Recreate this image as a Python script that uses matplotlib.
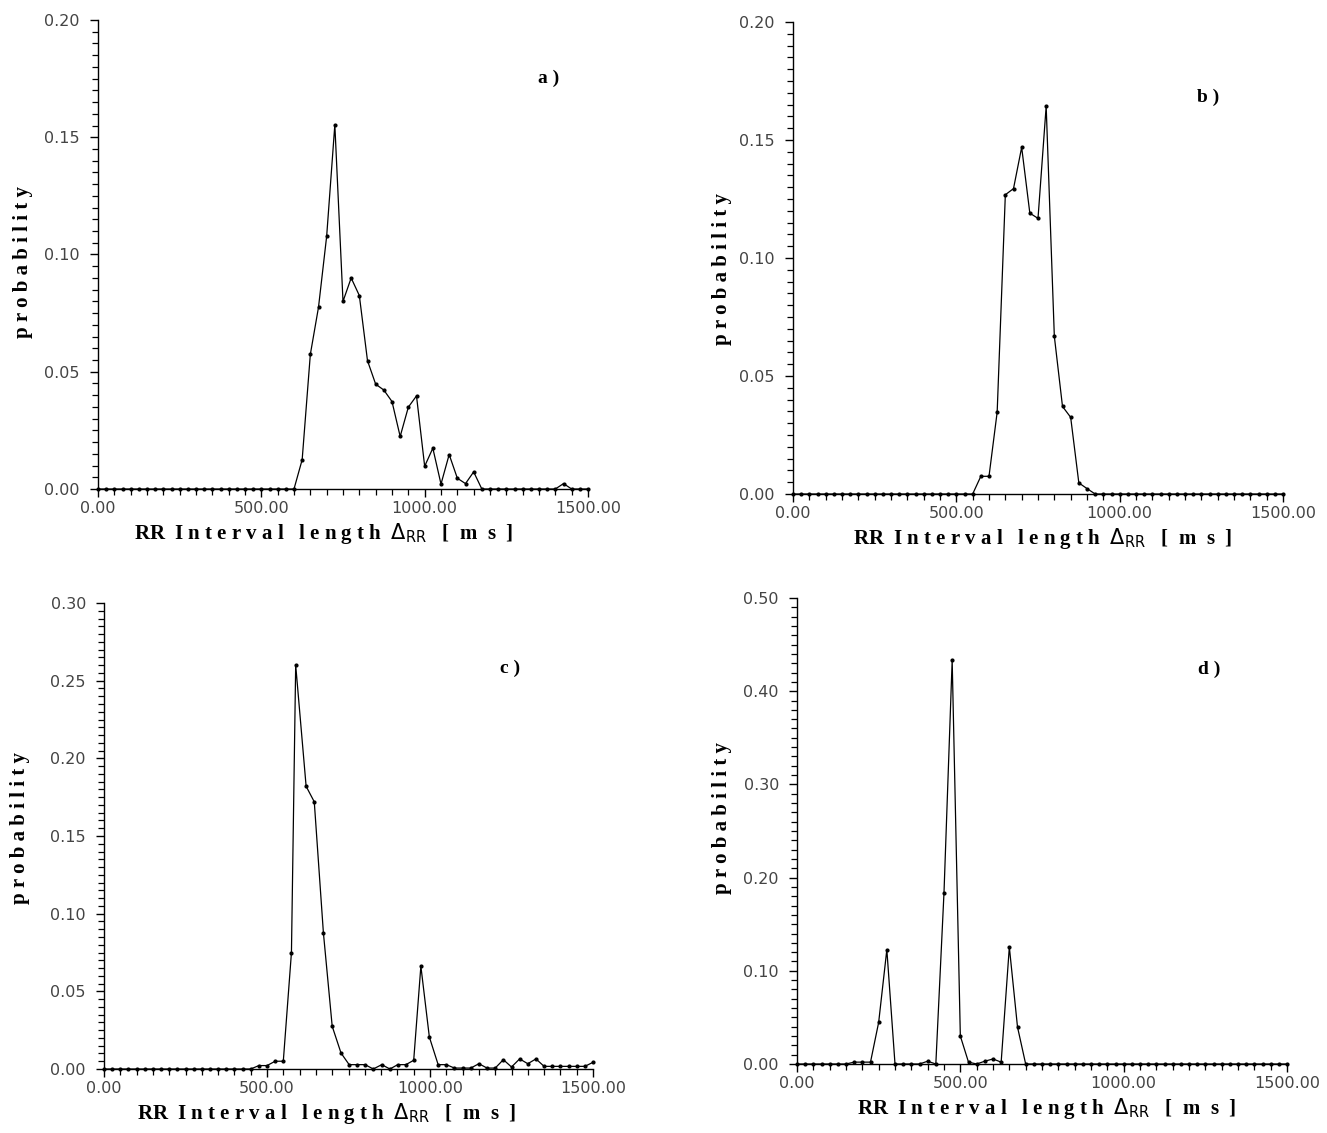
import numpy as np
import matplotlib
matplotlib.use("Agg")
import matplotlib.pyplot as plt
from matplotlib.ticker import MultipleLocator, FormatStrFormatter

# ---------------- data ----------------
bins_ms = np.arange(0, 1525, 25)  # histogram bin positions (ms)

prob_a = [0.0] * 25 + [
    0.0125, 0.0574, 0.0775, 0.1078, 0.1553, 0.0800, 0.0900, 0.0825,
    0.0547, 0.0447, 0.0422, 0.0373, 0.0224, 0.0349, 0.0397, 0.0097,
    0.0174, 0.0021, 0.0147, 0.0046, 0.0023, 0.0073,
] + [0.0] * 10 + [0.0023, 0.0, 0.0, 0.0]

prob_b = [0.0] * 23 + [
    0.0075, 0.0075, 0.0347, 0.1268, 0.1294, 0.1469, 0.1190, 0.1168,
    0.1643, 0.0668, 0.0371, 0.0325, 0.0047, 0.0023,
] + [0.0] * 24

x_c = [0, 25, 50, 75, 100, 125, 150, 175, 200, 225, 250, 275, 300, 325,
       350, 375, 400, 425, 450, 475, 500, 525, 550, 575, 588, 620, 645,
       673, 700, 727, 752, 777, 801, 826, 852, 877, 901, 926, 950, 972,
       998, 1025, 1050, 1075, 1100, 1125, 1150, 1175, 1200, 1225, 1250,
       1275, 1300, 1325, 1350, 1375, 1400, 1425, 1450, 1475, 1500]
prob_c = [0.0] * 19 + [
    0.0022, 0.0022, 0.0050, 0.0050, 0.0750, 0.2600, 0.1820, 0.1720,
    0.0877, 0.0275, 0.0103, 0.0028, 0.0028, 0.0028, 0.0000, 0.0028,
    0.0000, 0.0028, 0.0028, 0.0056, 0.0662, 0.0206, 0.0028, 0.0028,
    0.0006, 0.0006, 0.0006, 0.0034, 0.0006, 0.0006, 0.0060, 0.0013,
    0.0065, 0.0034, 0.0065, 0.0017, 0.0017, 0.0017, 0.0017, 0.0017,
    0.0017, 0.0043,
]

prob_d = [0.0] * 7 + [
    0.0020, 0.0020, 0.0020, 0.0447, 0.1227, 0.0, 0.0, 0.0, 0.0,
    0.0030, 0.0, 0.1840, 0.4330, 0.0300, 0.0020, 0.0, 0.0030, 0.0054,
    0.0020, 0.1255, 0.0397,
] + [0.0] * 33

panel_labels = ["a )", "b )", "c )", "d )"]
y_max = [0.20, 0.20, 0.30, 0.50]
y_major = [0.05, 0.05, 0.05, 0.10]
y_minor = [0.005, 0.005, 0.005, 0.01]
x_major_ticks = [0, 500, 1000, 1500]

# ---------------- figure ----------------
W, H = 1327, 1133
fig = plt.figure(figsize=(W / 100, H / 100), dpi=100)

def px_axes(left, right, top, bottom):
    return fig.add_axes([left / W, 1 - bottom / H, (right - left) / W, (bottom - top) / H])

axes = [
    px_axes(98, 588, 20, 489),
    px_axes(793, 1283, 22, 494),
    px_axes(104, 593, 603, 1069),
    px_axes(797, 1287, 598, 1064),
]

series = [(bins_ms, prob_a), (bins_ms, prob_b), (x_c, prob_c), (bins_ms, prob_d)]
label_pos = [(549, 78), (1208, 97), (510, 668), (1209, 669)]
xlab_x = [0.46, 0.51, 0.455, 0.51]
ylab_px = [-65, -61, -74, -65]
ylab_y = [0.485, 0.477, 0.517, 0.528]

tick_family = ["DejaVu Sans"]
serif = ["Liberation Serif", "DejaVu Serif"]

plt.rcParams["mathtext.fontset"] = "custom"
plt.rcParams["mathtext.rm"] = "Liberation Serif:bold"
plt.rcParams["mathtext.it"] = "Liberation Serif:bold"
plt.rcParams["mathtext.bf"] = "Liberation Serif:bold"

xlabel_text = r"RR  I n t e r v a l   l e n g t h  $\Delta_{\mathrm{RR}}$   [  m  s  ]"

for i, ax in enumerate(axes):
    xs, ys = series[i]
    ax.plot(xs, ys, color="black", lw=0.9, marker="o", ms=2.0,
            mfc="black", mec="black", clip_on=False, zorder=3)
    ax.set_xlim(0, 1500)
    ax.set_ylim(0, y_max[i])
    for s in ["top", "right"]:
        ax.spines[s].set_visible(False)
    for s in ["left", "bottom"]:
        ax.spines[s].set_linewidth(1.0)
    ax.xaxis.set_major_locator(plt.FixedLocator(x_major_ticks))
    ax.xaxis.set_minor_locator(MultipleLocator(50))
    ax.yaxis.set_major_locator(MultipleLocator(y_major[i]))
    ax.yaxis.set_minor_locator(MultipleLocator(y_minor[i]))
    ax.xaxis.set_major_formatter(FormatStrFormatter("%.2f"))
    ax.yaxis.set_major_formatter(FormatStrFormatter("%.2f"))
    ax.tick_params(axis="x", which="major", direction="out", length=6, width=1.0, pad=2.5, labelsize=11.5)
    ax.tick_params(axis="x", which="minor", direction="out", length=4, width=0.9)
    ax.tick_params(axis="y", which="major", direction="out", length=6, width=1.0, pad=7, labelsize=11.5)
    ax.tick_params(axis="y", which="minor", direction="out", length=4, width=0.9)
    for lab in ax.get_xticklabels() + ax.get_yticklabels():
        lab.set_family(tick_family)
        lab.set_color("#444444")
    ax.set_ylabel("p r o b a b i l i t y", family=serif, fontweight="bold", fontsize=15)
    ax.yaxis.set_label_coords(ylab_px[i] / 490, ylab_y[i])
    ax.set_xlabel(xlabel_text, family=serif, fontweight="bold", fontsize=15)
    h = ax.get_position().height * H
    ax.xaxis.set_label_coords(xlab_x[i], -32 / h)
    lx, ly = label_pos[i]
    fig.text(lx / W, 1 - ly / H, panel_labels[i], family=serif, fontweight="bold",
             fontsize=14, ha="center", va="center")

fig.savefig("out.png", dpi=100, facecolor="white")
